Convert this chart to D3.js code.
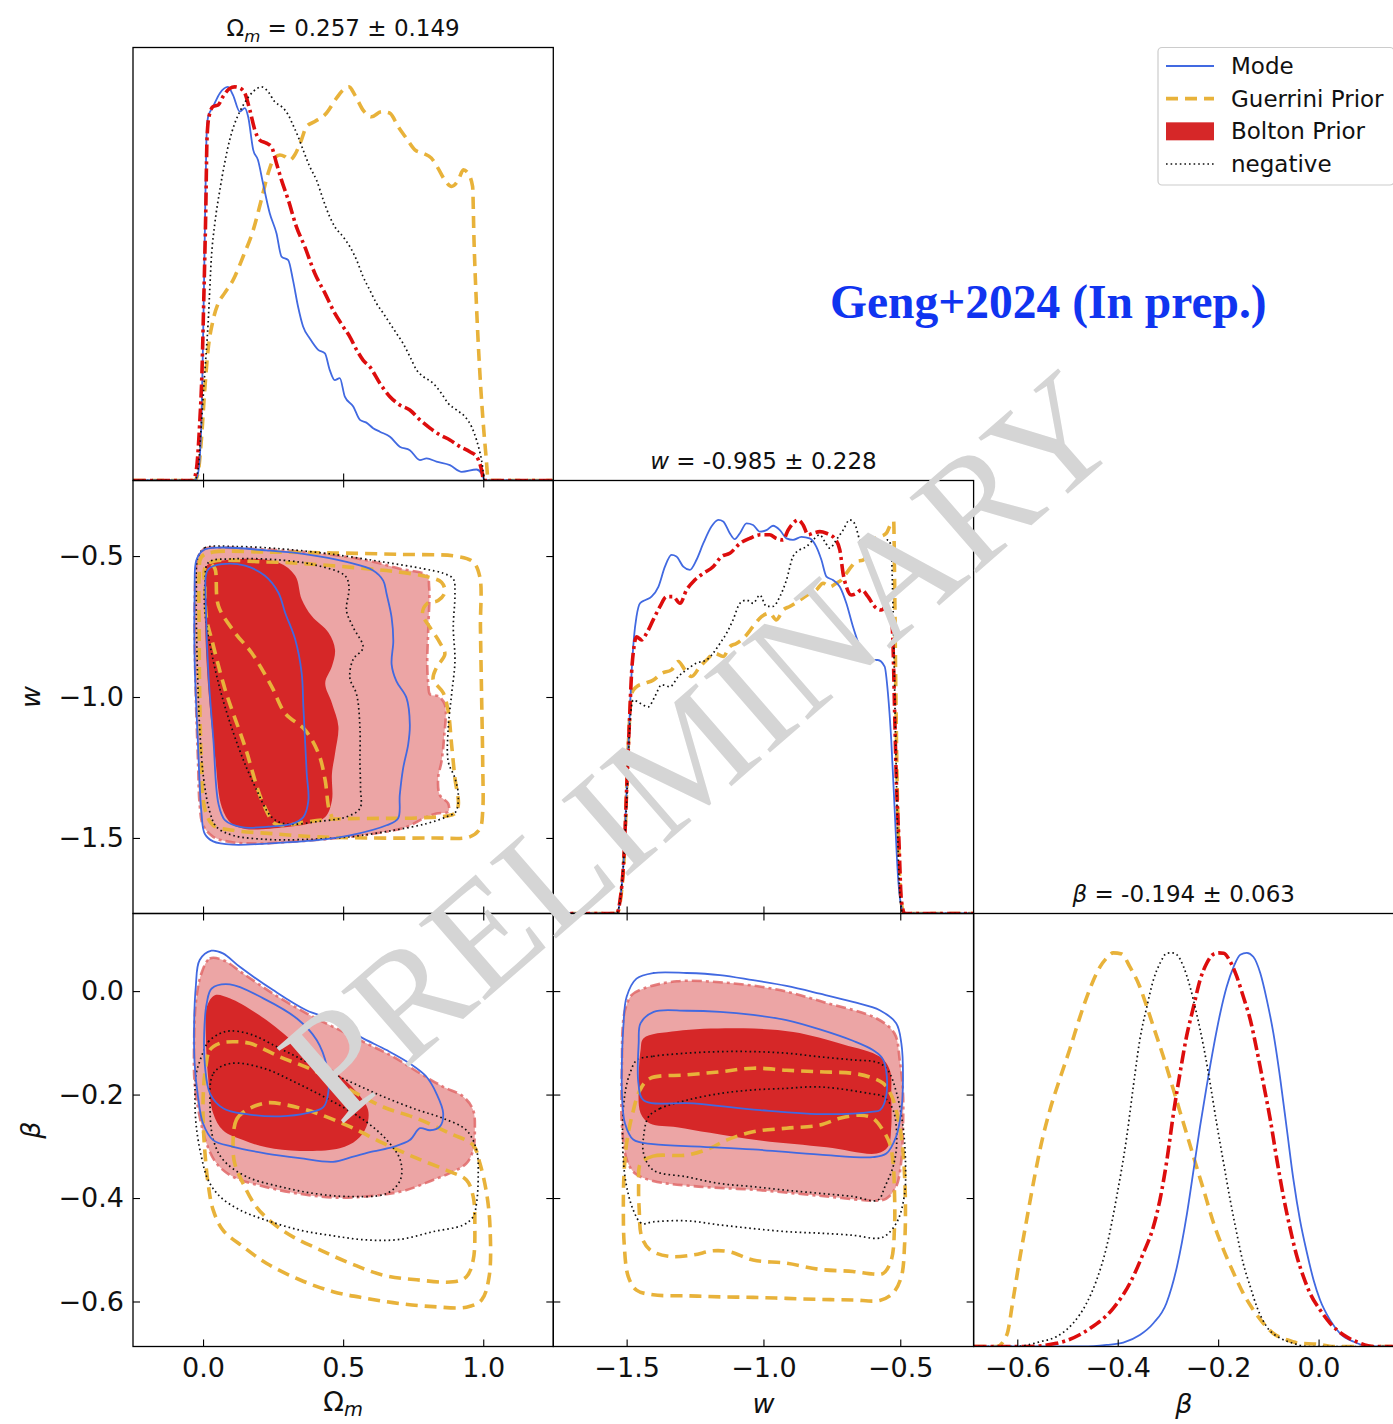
<!DOCTYPE html>
<html>
<head>
<meta charset="utf-8">
<script src="https://cdn.jsdelivr.net/npm/d3@7"></script>
<style>
  body { margin: 0; background: #fff; }
  svg { display: block; }
</style>
</head>
<body>
<svg id="fig" width="1393" height="1424"></svg>
<script>
// ---------------- tick values ----------------
const omTicks = [0, 0.5, 1.0];
const wTicks = [-1.5, -1.0, -0.5];
const betaTicks = [-0.6, -0.4, -0.2, 0.0];

// ---------------- panel titles (mean ± std) ----------------
const titleOm = ["0.257", "0.149"];
const titleW = ["-0.985", "0.228"];
const titleBeta = ["-0.194", "0.063"];

const seriesNames = ["Mode", "Guerrini Prior", "Bolton Prior", "negative"];

// ---------------- 1D marginals: [value, normalised density] ----------------
const om1D_mode = [[-0.25,0],[-0.030,0],[-0.018,0.018],[-0.006,0.145],[0.0,0.357],[0.006,0.611],[0.012,0.865],[0.018,0.924],[0.036,0.950],[0.060,0.984],[0.089,1.0],[0.107,0.979],[0.131,0.937],[0.149,0.946],[0.161,0.924],[0.179,0.840],[0.196,0.814],[0.214,0.755],[0.238,0.679],[0.262,0.628],[0.280,0.569],[0.304,0.560],[0.321,0.509],[0.339,0.442],[0.357,0.391],[0.381,0.361],[0.411,0.332],[0.435,0.323],[0.452,0.281],[0.470,0.255],[0.488,0.260],[0.506,0.213],[0.536,0.188],[0.560,0.154],[0.583,0.147],[0.607,0.133],[0.631,0.124],[0.667,0.111],[0.702,0.086],[0.738,0.077],[0.774,0.052],[0.798,0.056],[0.833,0.048],[0.881,0.039],[0.923,0.022],[0.976,0.028],[0.994,0.018],[1.006,0],[1.25,0]];
const om1D_guerrini = [[-0.25,0],[-0.030,0],[-0.018,0.018],[-0.006,0.103],[0.006,0.230],[0.018,0.332],[0.036,0.408],[0.054,0.450],[0.077,0.476],[0.107,0.509],[0.143,0.569],[0.179,0.636],[0.208,0.713],[0.232,0.780],[0.250,0.814],[0.274,0.827],[0.292,0.823],[0.310,0.814],[0.327,0.827],[0.351,0.865],[0.369,0.899],[0.399,0.912],[0.440,0.933],[0.476,0.971],[0.500,0.992],[0.521,1.0],[0.542,0.979],[0.571,0.941],[0.601,0.924],[0.637,0.937],[0.667,0.933],[0.696,0.899],[0.726,0.869],[0.756,0.840],[0.786,0.831],[0.815,0.819],[0.839,0.793],[0.863,0.763],[0.887,0.747],[0.911,0.763],[0.929,0.789],[0.946,0.780],[0.962,0.747],[0.967,0.611],[0.976,0.442],[0.988,0.272],[1.000,0.145],[1.010,0.061],[1.018,0],[1.25,0]];
const om1D_bolton = [[-0.25,0],[-0.036,0],[-0.024,0.027],[-0.012,0.145],[-0.004,0.272],[0.002,0.442],[0.010,0.696],[0.014,0.865],[0.021,0.924],[0.036,0.950],[0.054,0.954],[0.071,0.975],[0.095,0.996],[0.113,1.0],[0.131,0.997],[0.149,0.984],[0.167,0.941],[0.185,0.890],[0.202,0.865],[0.226,0.857],[0.244,0.848],[0.262,0.806],[0.280,0.763],[0.304,0.713],[0.333,0.645],[0.363,0.594],[0.399,0.526],[0.435,0.476],[0.470,0.425],[0.500,0.391],[0.524,0.365],[0.548,0.332],[0.571,0.306],[0.595,0.289],[0.631,0.247],[0.667,0.213],[0.702,0.192],[0.738,0.179],[0.774,0.154],[0.810,0.133],[0.845,0.116],[0.881,0.103],[0.917,0.086],[0.952,0.073],[0.976,0.061],[0.994,0.027],[1.002,0],[1.25,0]];
const om1D_negative = [[-0.25,0],[-0.030,0],[-0.018,0.027],[-0.006,0.145],[0.006,0.272],[0.018,0.399],[0.030,0.569],[0.042,0.653],[0.060,0.738],[0.077,0.806],[0.095,0.865],[0.113,0.907],[0.131,0.937],[0.155,0.967],[0.179,0.988],[0.208,1.0],[0.232,0.988],[0.256,0.962],[0.280,0.950],[0.304,0.929],[0.321,0.903],[0.339,0.874],[0.357,0.840],[0.381,0.797],[0.405,0.763],[0.429,0.713],[0.452,0.670],[0.470,0.645],[0.500,0.619],[0.524,0.594],[0.548,0.560],[0.571,0.518],[0.595,0.484],[0.619,0.450],[0.643,0.425],[0.667,0.399],[0.690,0.374],[0.714,0.348],[0.738,0.315],[0.762,0.281],[0.786,0.264],[0.821,0.247],[0.851,0.221],[0.875,0.196],[0.905,0.179],[0.935,0.162],[0.958,0.137],[0.976,0.103],[0.994,0.052],[1.006,0],[1.25,0]];

const w1D_mode = [[-1.768,0],[-1.536,0],[-1.524,0.034],[-1.510,0.144],[-1.500,0.314],[-1.490,0.483],[-1.482,0.610],[-1.473,0.703],[-1.464,0.754],[-1.451,0.788],[-1.433,0.796],[-1.409,0.805],[-1.384,0.830],[-1.360,0.881],[-1.336,0.911],[-1.318,0.907],[-1.293,0.881],[-1.269,0.873],[-1.245,0.898],[-1.220,0.940],[-1.190,0.983],[-1.165,1.0],[-1.147,0.996],[-1.123,0.966],[-1.105,0.951],[-1.086,0.966],[-1.062,0.991],[-1.038,0.987],[-1.013,0.970],[-0.989,0.974],[-0.965,0.985],[-0.940,0.974],[-0.916,0.953],[-0.892,0.949],[-0.861,0.957],[-0.831,0.953],[-0.807,0.932],[-0.788,0.898],[-0.770,0.856],[-0.746,0.847],[-0.721,0.830],[-0.697,0.788],[-0.673,0.729],[-0.648,0.678],[-0.618,0.644],[-0.582,0.644],[-0.557,0.627],[-0.545,0.559],[-0.533,0.441],[-0.521,0.271],[-0.509,0.102],[-0.496,0.017],[-0.484,0],[-0.232,0]];
const w1D_guerrini = [[-1.768,0],[-1.536,0],[-1.518,0.060],[-1.506,0.187],[-1.498,0.356],[-1.490,0.483],[-1.482,0.559],[-1.464,0.576],[-1.433,0.585],[-1.403,0.593],[-1.372,0.610],[-1.336,0.619],[-1.311,0.640],[-1.287,0.619],[-1.263,0.602],[-1.232,0.627],[-1.208,0.644],[-1.178,0.661],[-1.147,0.653],[-1.123,0.678],[-1.099,0.686],[-1.068,0.703],[-1.038,0.729],[-1.007,0.754],[-0.977,0.763],[-0.953,0.746],[-0.928,0.771],[-0.904,0.780],[-0.867,0.796],[-0.831,0.813],[-0.807,0.822],[-0.782,0.839],[-0.758,0.830],[-0.734,0.839],[-0.715,0.847],[-0.697,0.864],[-0.679,0.881],[-0.661,0.894],[-0.636,0.898],[-0.618,0.915],[-0.600,0.949],[-0.575,0.957],[-0.551,0.966],[-0.533,0.991],[-0.524,0.996],[-0.521,0.864],[-0.517,0.610],[-0.512,0.356],[-0.505,0.144],[-0.496,0.026],[-0.484,0],[-0.232,0]];
const w1D_bolton = [[-1.768,0],[-1.536,0],[-1.524,0.034],[-1.510,0.144],[-1.500,0.314],[-1.490,0.483],[-1.482,0.610],[-1.473,0.678],[-1.464,0.703],[-1.445,0.695],[-1.427,0.712],[-1.403,0.746],[-1.378,0.780],[-1.354,0.805],[-1.330,0.805],[-1.305,0.788],[-1.281,0.822],[-1.251,0.847],[-1.220,0.864],[-1.184,0.881],[-1.153,0.907],[-1.123,0.915],[-1.086,0.940],[-1.050,0.953],[-1.013,0.962],[-0.977,0.962],[-0.953,0.953],[-0.928,0.949],[-0.910,0.974],[-0.892,0.991],[-0.873,1.0],[-0.855,0.987],[-0.837,0.962],[-0.819,0.966],[-0.794,0.970],[-0.770,0.966],[-0.740,0.953],[-0.721,0.924],[-0.709,0.864],[-0.697,0.830],[-0.679,0.809],[-0.661,0.813],[-0.642,0.822],[-0.618,0.805],[-0.594,0.780],[-0.569,0.771],[-0.551,0.780],[-0.533,0.754],[-0.527,0.695],[-0.521,0.525],[-0.515,0.356],[-0.505,0.187],[-0.496,0.034],[-0.484,0],[-0.232,0]];
const w1D_negative = [[-1.768,0],[-1.536,0],[-1.524,0.034],[-1.510,0.144],[-1.498,0.314],[-1.488,0.483],[-1.476,0.542],[-1.451,0.534],[-1.421,0.525],[-1.397,0.551],[-1.372,0.581],[-1.342,0.576],[-1.311,0.602],[-1.281,0.619],[-1.245,0.636],[-1.208,0.644],[-1.184,0.661],[-1.159,0.686],[-1.135,0.712],[-1.111,0.746],[-1.086,0.788],[-1.062,0.796],[-1.038,0.788],[-1.013,0.809],[-0.989,0.780],[-0.965,0.780],[-0.940,0.805],[-0.916,0.847],[-0.892,0.907],[-0.867,0.924],[-0.843,0.932],[-0.819,0.949],[-0.794,0.962],[-0.776,0.945],[-0.758,0.928],[-0.734,0.949],[-0.709,0.974],[-0.685,1.0],[-0.667,0.991],[-0.648,0.949],[-0.624,0.932],[-0.600,0.932],[-0.582,0.932],[-0.563,0.940],[-0.545,0.949],[-0.533,0.932],[-0.529,0.847],[-0.524,0.695],[-0.517,0.441],[-0.509,0.187],[-0.500,0.034],[-0.490,0],[-0.232,0]];

const beta1D_mode = [[-0.687,0],[-0.469,0],[-0.422,0.004],[-0.389,0.010],[-0.356,0.029],[-0.329,0.059],[-0.303,0.110],[-0.282,0.203],[-0.262,0.338],[-0.249,0.448],[-0.236,0.559],[-0.223,0.660],[-0.209,0.762],[-0.196,0.846],[-0.183,0.914],[-0.169,0.965],[-0.156,0.995],[-0.143,1.0],[-0.130,0.990],[-0.116,0.948],[-0.103,0.880],[-0.090,0.796],[-0.076,0.677],[-0.063,0.550],[-0.050,0.423],[-0.037,0.321],[-0.023,0.237],[-0.010,0.169],[0.003,0.118],[0.023,0.067],[0.043,0.033],[0.070,0.012],[0.103,0],[0.150,0]];
const beta1D_guerrini = [[-0.687,0],[-0.641,0],[-0.621,0.029],[-0.608,0.122],[-0.595,0.224],[-0.582,0.317],[-0.568,0.415],[-0.555,0.499],[-0.535,0.601],[-0.515,0.681],[-0.495,0.757],[-0.475,0.838],[-0.455,0.910],[-0.435,0.965],[-0.422,0.987],[-0.409,1.0],[-0.392,0.997],[-0.376,0.965],[-0.356,0.914],[-0.342,0.863],[-0.329,0.813],[-0.309,0.736],[-0.289,0.652],[-0.269,0.567],[-0.249,0.482],[-0.229,0.398],[-0.209,0.313],[-0.189,0.245],[-0.169,0.186],[-0.150,0.135],[-0.130,0.093],[-0.110,0.059],[-0.090,0.033],[-0.063,0.017],[-0.037,0.008],[-0.003,0.006],[0.030,0],[0.150,0]];
const beta1D_bolton = [[-0.687,0],[-0.582,0],[-0.522,0.008],[-0.455,0.046],[-0.409,0.097],[-0.376,0.160],[-0.349,0.237],[-0.329,0.304],[-0.316,0.372],[-0.302,0.474],[-0.289,0.592],[-0.276,0.694],[-0.263,0.787],[-0.249,0.863],[-0.236,0.931],[-0.223,0.973],[-0.209,0.997],[-0.199,1.0],[-0.189,0.999],[-0.176,0.978],[-0.163,0.940],[-0.150,0.889],[-0.136,0.830],[-0.123,0.753],[-0.110,0.669],[-0.096,0.575],[-0.083,0.474],[-0.070,0.381],[-0.056,0.296],[-0.043,0.228],[-0.030,0.177],[-0.017,0.135],[0.003,0.093],[0.023,0.059],[0.050,0.029],[0.076,0.012],[0.110,0],[0.150,0]];
const beta1D_negative = [[-0.687,0],[-0.602,0],[-0.555,0.012],[-0.522,0.025],[-0.489,0.059],[-0.462,0.110],[-0.442,0.169],[-0.422,0.254],[-0.402,0.381],[-0.382,0.533],[-0.369,0.660],[-0.356,0.779],[-0.342,0.863],[-0.329,0.931],[-0.316,0.973],[-0.302,0.999],[-0.292,1.0],[-0.282,0.995],[-0.269,0.965],[-0.256,0.914],[-0.243,0.846],[-0.229,0.762],[-0.216,0.669],[-0.203,0.567],[-0.189,0.465],[-0.176,0.372],[-0.163,0.288],[-0.150,0.211],[-0.136,0.152],[-0.123,0.101],[-0.103,0.050],[-0.076,0.021],[-0.050,0.008],[-0.023,0],[0.150,0]];

// ---------------- 2D credible contours: [x value, y value] ----------------
// Omega_m vs w
const omW_bolton95 = [[-0.018,-0.504],[0.006,-0.474],[0.060,-0.470],[0.226,-0.477],[0.405,-0.489],[0.583,-0.515],[0.702,-0.545],[0.798,-0.569],[0.807,-0.611],[0.804,-0.753],[0.800,-0.884],[0.804,-0.955],[0.810,-0.991],[0.839,-0.997],[0.863,-1.027],[0.860,-1.146],[0.851,-1.229],[0.839,-1.288],[0.845,-1.348],[0.875,-1.378],[0.875,-1.407],[0.833,-1.413],[0.786,-1.431],[0.726,-1.461],[0.607,-1.485],[0.464,-1.502],[0.310,-1.514],[0.202,-1.520],[0.095,-1.514],[0.036,-1.496],[0.0,-1.455],[-0.012,-1.383],[-0.018,-1.229],[-0.026,-0.991],[-0.030,-0.753],[-0.027,-0.575]];
const omW_bolton68 = [[0.013,-0.534],[0.114,-0.511],[0.269,-0.523],[0.329,-0.570],[0.352,-0.653],[0.388,-0.713],[0.448,-0.772],[0.471,-0.832],[0.460,-0.891],[0.436,-0.951],[0.460,-1.022],[0.483,-1.105],[0.471,-1.200],[0.460,-1.272],[0.460,-1.367],[0.436,-1.426],[0.376,-1.450],[0.293,-1.462],[0.150,-1.468],[0.102,-1.450],[0.067,-1.391],[0.043,-1.212],[0.019,-0.974],[0.007,-0.737],[0.007,-0.582]];
const omW_mode95 = [[-0.024,-0.515],[0.0,-0.480],[0.060,-0.470],[0.226,-0.480],[0.369,-0.494],[0.512,-0.521],[0.607,-0.551],[0.643,-0.587],[0.655,-0.634],[0.673,-0.718],[0.679,-0.801],[0.673,-0.884],[0.690,-0.944],[0.726,-1.003],[0.738,-1.098],[0.732,-1.169],[0.714,-1.253],[0.702,-1.348],[0.696,-1.431],[0.655,-1.455],[0.524,-1.491],[0.405,-1.508],[0.226,-1.520],[0.107,-1.524],[0.036,-1.512],[0.006,-1.485],[-0.006,-1.407],[-0.018,-1.169],[-0.030,-0.872],[-0.030,-0.634]];
const omW_mode68 = [[0.019,-0.546],[0.067,-0.529],[0.150,-0.534],[0.221,-0.570],[0.269,-0.630],[0.293,-0.701],[0.329,-0.796],[0.352,-0.915],[0.358,-1.034],[0.364,-1.153],[0.370,-1.272],[0.376,-1.367],[0.358,-1.426],[0.317,-1.450],[0.233,-1.460],[0.138,-1.462],[0.079,-1.438],[0.055,-1.379],[0.037,-1.153],[0.019,-0.915],[0.010,-0.677],[0.010,-0.570]];
const omW_neg95 = [[-0.018,-0.504],[0.006,-0.471],[0.107,-0.466],[0.286,-0.475],[0.464,-0.494],[0.643,-0.521],[0.786,-0.545],[0.857,-0.561],[0.893,-0.581],[0.899,-0.634],[0.893,-0.753],[0.899,-0.872],[0.887,-0.991],[0.875,-1.110],[0.875,-1.229],[0.899,-1.288],[0.911,-1.348],[0.902,-1.407],[0.869,-1.425],[0.798,-1.449],[0.679,-1.473],[0.524,-1.496],[0.345,-1.506],[0.226,-1.505],[0.107,-1.491],[0.048,-1.461],[0.024,-1.407],[0.002,-1.288],[-0.012,-1.110],[-0.021,-0.872],[-0.024,-0.634]];
const omW_neg68 = [[0.019,-0.523],[0.107,-0.510],[0.286,-0.515],[0.405,-0.533],[0.507,-0.570],[0.521,-0.611],[0.512,-0.694],[0.536,-0.753],[0.571,-0.825],[0.536,-0.866],[0.524,-0.932],[0.548,-0.991],[0.560,-1.110],[0.560,-1.229],[0.562,-1.324],[0.560,-1.395],[0.512,-1.425],[0.417,-1.441],[0.293,-1.450],[0.245,-1.426],[0.186,-1.319],[0.126,-1.177],[0.055,-0.951],[0.007,-0.701],[0.007,-0.594]];
const omW_guer95 = [[-0.006,-0.504],[0.036,-0.486],[0.226,-0.486],[0.464,-0.489],[0.702,-0.494],[0.905,-0.501],[0.964,-0.521],[0.988,-0.575],[0.990,-0.753],[0.994,-0.991],[0.998,-1.229],[0.998,-1.407],[0.988,-1.467],[0.952,-1.496],[0.821,-1.500],[0.583,-1.500],[0.405,-1.496],[0.250,-1.485],[0.107,-1.473],[0.036,-1.455],[0.006,-1.395],[-0.006,-1.229],[-0.012,-0.991],[-0.014,-0.753],[-0.014,-0.575]];
const omW_guer68 = [[0.014,-0.530],[0.226,-0.521],[0.405,-0.530],[0.583,-0.545],[0.702,-0.557],[0.798,-0.573],[0.851,-0.593],[0.863,-0.628],[0.839,-0.658],[0.798,-0.670],[0.783,-0.706],[0.810,-0.753],[0.845,-0.807],[0.863,-0.848],[0.833,-0.896],[0.821,-0.938],[0.857,-0.985],[0.875,-1.051],[0.887,-1.169],[0.899,-1.288],[0.911,-1.383],[0.899,-1.413],[0.869,-1.422],[0.762,-1.429],[0.583,-1.431],[0.464,-1.433],[0.369,-1.443],[0.293,-1.455],[0.257,-1.450],[0.210,-1.367],[0.150,-1.177],[0.079,-0.974],[0.031,-0.796],[0.013,-0.725],[0.007,-0.618]];
const omW_guerRidge = [[0.031,-0.530],[0.043,-0.546],[0.055,-0.677],[0.114,-0.772],[0.174,-0.844],[0.245,-0.963],[0.293,-1.058],[0.364,-1.117],[0.412,-1.200],[0.436,-1.296],[0.448,-1.391],[0.460,-1.426]];

// Omega_m vs beta
const omB_bolton95 = [[-0.006,0.034],[0.024,0.063],[0.071,0.060],[0.143,0.034],[0.250,-0.005],[0.369,-0.043],[0.464,-0.069],[0.583,-0.101],[0.679,-0.127],[0.774,-0.159],[0.857,-0.185],[0.929,-0.204],[0.964,-0.230],[0.970,-0.269],[0.964,-0.307],[0.940,-0.333],[0.881,-0.352],[0.821,-0.365],[0.762,-0.378],[0.702,-0.388],[0.583,-0.397],[0.464,-0.399],[0.345,-0.392],[0.226,-0.379],[0.107,-0.359],[0.048,-0.333],[0.012,-0.294],[-0.012,-0.243],[-0.030,-0.178],[-0.032,-0.101],[-0.026,-0.024]];
const omB_bolton68 = [[0.014,-0.030],[0.042,-0.008],[0.095,-0.014],[0.226,-0.056],[0.345,-0.108],[0.464,-0.153],[0.548,-0.195],[0.589,-0.230],[0.583,-0.262],[0.548,-0.288],[0.488,-0.304],[0.345,-0.309],[0.226,-0.302],[0.143,-0.288],[0.071,-0.269],[0.036,-0.236],[0.018,-0.166],[0.010,-0.088]];
const omB_mode95 = [[-0.012,0.060],[0.030,0.078],[0.071,0.073],[0.131,0.047],[0.250,0.002],[0.369,-0.037],[0.464,-0.056],[0.560,-0.088],[0.655,-0.114],[0.738,-0.140],[0.798,-0.166],[0.833,-0.198],[0.857,-0.236],[0.845,-0.262],[0.810,-0.269],[0.774,-0.265],[0.738,-0.288],[0.679,-0.301],[0.607,-0.310],[0.536,-0.320],[0.464,-0.330],[0.345,-0.323],[0.226,-0.314],[0.107,-0.301],[0.036,-0.288],[0.000,-0.256],[-0.018,-0.204],[-0.030,-0.140],[-0.032,-0.069],[-0.026,0.008]];
const omB_mode68 = [[0.031,0.005],[0.096,0.013],[0.215,-0.014],[0.335,-0.053],[0.406,-0.095],[0.442,-0.146],[0.448,-0.191],[0.430,-0.224],[0.370,-0.236],[0.275,-0.242],[0.156,-0.238],[0.073,-0.227],[0.025,-0.198],[0.007,-0.146],[0.004,-0.082],[0.013,-0.024]];
const omB_neg95 = [[-0.006,-0.127],[0.019,-0.098],[0.060,-0.082],[0.096,-0.077],[0.167,-0.083],[0.286,-0.114],[0.405,-0.146],[0.524,-0.175],[0.643,-0.204],[0.762,-0.229],[0.857,-0.246],[0.940,-0.269],[0.976,-0.307],[0.982,-0.359],[0.976,-0.410],[0.964,-0.436],[0.929,-0.452],[0.821,-0.465],[0.702,-0.480],[0.583,-0.481],[0.464,-0.473],[0.345,-0.462],[0.226,-0.443],[0.131,-0.423],[0.060,-0.397],[0.018,-0.365],[-0.006,-0.320],[-0.024,-0.262],[-0.029,-0.204],[-0.024,-0.159]];
const omB_neg68 = [[0.025,-0.224],[0.037,-0.159],[0.096,-0.140],[0.215,-0.149],[0.335,-0.178],[0.454,-0.211],[0.573,-0.249],[0.656,-0.288],[0.704,-0.327],[0.704,-0.365],[0.656,-0.391],[0.513,-0.397],[0.394,-0.391],[0.275,-0.378],[0.156,-0.359],[0.073,-0.327],[0.037,-0.288]];
const omB_guer95 = [[0.010,-0.146],[0.024,-0.114],[0.060,-0.101],[0.107,-0.098],[0.167,-0.101],[0.274,-0.127],[0.393,-0.153],[0.524,-0.191],[0.643,-0.224],[0.762,-0.246],[0.881,-0.275],[0.964,-0.298],[0.988,-0.333],[1.012,-0.391],[1.024,-0.455],[1.021,-0.552],[0.994,-0.597],[0.940,-0.611],[0.821,-0.610],[0.702,-0.604],[0.583,-0.594],[0.464,-0.581],[0.345,-0.558],[0.226,-0.526],[0.143,-0.494],[0.071,-0.462],[0.036,-0.423],[0.018,-0.372],[0.006,-0.307],[0.000,-0.243],[0.002,-0.185]];
const omB_guer68 = [[0.107,-0.294],[0.119,-0.249],[0.155,-0.230],[0.226,-0.216],[0.298,-0.220],[0.405,-0.236],[0.524,-0.262],[0.643,-0.294],[0.762,-0.323],[0.881,-0.349],[0.940,-0.365],[0.964,-0.397],[0.970,-0.455],[0.964,-0.520],[0.940,-0.552],[0.893,-0.562],[0.762,-0.558],[0.643,-0.549],[0.524,-0.526],[0.417,-0.500],[0.321,-0.475],[0.250,-0.449],[0.190,-0.417],[0.143,-0.372],[0.113,-0.333]];

// w vs beta
const wB_bolton95 = [[-1.506,-0.037],[-1.482,-0.008],[-1.438,0.005],[-1.316,0.019],[-1.134,0.016],[-0.951,0.003],[-0.769,-0.023],[-0.586,-0.053],[-0.521,-0.082],[-0.502,-0.133],[-0.490,-0.198],[-0.490,-0.262],[-0.496,-0.327],[-0.515,-0.378],[-0.551,-0.401],[-0.586,-0.405],[-0.769,-0.397],[-1.012,-0.385],[-1.255,-0.377],[-1.403,-0.367],[-1.470,-0.352],[-1.499,-0.327],[-1.517,-0.262],[-1.519,-0.198],[-1.517,-0.133],[-1.515,-0.075]];
const wB_bolton68 = [[-1.449,-0.114],[-1.438,-0.091],[-1.316,-0.077],[-1.073,-0.072],[-0.891,-0.079],[-0.708,-0.103],[-0.574,-0.127],[-0.538,-0.153],[-0.533,-0.204],[-0.533,-0.262],[-0.545,-0.301],[-0.586,-0.314],[-0.769,-0.302],[-1.012,-0.289],[-1.195,-0.274],[-1.316,-0.263],[-1.415,-0.256],[-1.449,-0.236],[-1.456,-0.178]];
const wB_mode95 = [[-1.516,-0.211],[-1.518,-0.166],[-1.512,-0.069],[-1.500,-0.011],[-1.464,0.024],[-1.403,0.035],[-1.281,0.035],[-1.159,0.031],[-1.038,0.021],[-0.916,0.010],[-0.794,-0.005],[-0.673,-0.021],[-0.575,-0.037],[-0.515,-0.062],[-0.496,-0.101],[-0.490,-0.166],[-0.496,-0.230],[-0.515,-0.281],[-0.551,-0.314],[-0.600,-0.321],[-0.794,-0.316],[-1.038,-0.306],[-1.220,-0.301],[-1.403,-0.296],[-1.476,-0.287],[-1.506,-0.256]];
const wB_mode68 = [[-1.456,-0.101],[-1.449,-0.062],[-1.401,-0.040],[-1.281,-0.038],[-1.159,-0.040],[-1.038,-0.046],[-0.916,-0.056],[-0.794,-0.074],[-0.673,-0.096],[-0.600,-0.114],[-0.562,-0.133],[-0.550,-0.198],[-0.574,-0.230],[-0.599,-0.233],[-0.769,-0.238],[-1.012,-0.230],[-1.255,-0.217],[-1.438,-0.211],[-1.457,-0.178]];
const wB_neg95 = [[-1.462,-0.133],[-1.403,-0.126],[-1.281,-0.120],[-1.159,-0.117],[-1.038,-0.117],[-0.916,-0.120],[-0.794,-0.127],[-0.673,-0.133],[-0.582,-0.138],[-0.545,-0.153],[-0.513,-0.198],[-0.490,-0.262],[-0.481,-0.327],[-0.484,-0.391],[-0.509,-0.443],[-0.551,-0.472],[-0.582,-0.478],[-0.673,-0.472],[-0.794,-0.468],[-0.916,-0.465],[-1.038,-0.459],[-1.159,-0.452],[-1.281,-0.444],[-1.403,-0.446],[-1.445,-0.449],[-1.476,-0.423],[-1.506,-0.359],[-1.515,-0.262],[-1.506,-0.198],[-1.488,-0.159]];
const wB_neg68 = [[-1.420,-0.243],[-1.378,-0.227],[-1.281,-0.211],[-1.159,-0.198],[-1.038,-0.191],[-0.916,-0.188],[-0.819,-0.185],[-0.734,-0.188],[-0.612,-0.198],[-0.562,-0.204],[-0.526,-0.230],[-0.513,-0.294],[-0.526,-0.339],[-0.556,-0.378],[-0.582,-0.404],[-0.673,-0.397],[-0.794,-0.391],[-0.916,-0.385],[-1.038,-0.378],[-1.159,-0.372],[-1.281,-0.359],[-1.403,-0.346],[-1.438,-0.314],[-1.438,-0.281]];
const wB_guer95 = [[-1.451,-0.191],[-1.415,-0.169],[-1.281,-0.162],[-1.159,-0.156],[-1.038,-0.149],[-0.916,-0.153],[-0.794,-0.156],[-0.673,-0.159],[-0.612,-0.166],[-0.563,-0.178],[-0.533,-0.201],[-0.509,-0.243],[-0.493,-0.294],[-0.484,-0.359],[-0.481,-0.423],[-0.484,-0.488],[-0.496,-0.552],[-0.527,-0.584],[-0.575,-0.598],[-0.673,-0.597],[-0.794,-0.596],[-0.916,-0.594],[-1.038,-0.592],[-1.159,-0.591],[-1.281,-0.589],[-1.403,-0.587],[-1.464,-0.578],[-1.494,-0.552],[-1.509,-0.488],[-1.512,-0.423],[-1.510,-0.359],[-1.500,-0.294],[-1.478,-0.236]];
const wB_guer68 = [[-1.449,-0.333],[-1.403,-0.319],[-1.281,-0.317],[-1.196,-0.304],[-1.135,-0.288],[-1.038,-0.272],[-0.916,-0.265],[-0.794,-0.259],[-0.721,-0.246],[-0.648,-0.240],[-0.600,-0.246],[-0.563,-0.269],[-0.539,-0.294],[-0.527,-0.327],[-0.521,-0.391],[-0.521,-0.455],[-0.533,-0.520],[-0.563,-0.546],[-0.600,-0.547],[-0.673,-0.542],[-0.794,-0.538],[-0.916,-0.526],[-1.038,-0.520],[-1.123,-0.504],[-1.184,-0.502],[-1.257,-0.510],[-1.342,-0.513],[-1.415,-0.500],[-1.445,-0.475],[-1.454,-0.423],[-1.456,-0.372]];

// ---------------- styling ----------------
const COL = {
  mode: "#4169e1",
  guerrini: "#e8b23a",
  boltonLine: "#dd0d0d",
  boltonDark: "#d62728",
  boltonLight: "#eca5a5",
  boltonEdge: "#e06868",
  negative: "#111111"
};
const FONT = '"DejaVu Sans", "Noto Sans", sans-serif';

const svg = d3.select("#fig");
svg.append("rect").attr("width", 1393).attr("height", 1424).attr("fill", "#fff");

// grid geometry
const colX = [133, 553.3, 973.6];
const rowY = [47.5, 480.5, 913.5];
const PW = 420.3, PH = 433;
const domains = { om: [-0.25, 1.25], w: [-1.768, -0.232], beta: [-0.687, 0.150] };
const ticksOf = { om: omTicks, w: wTicks, beta: betaTicks };
const params = ["om", "w", "beta"];

const xS = (p, c) => d3.scaleLinear().domain(domains[p]).range([colX[c], colX[c] + PW]);
const yS = (p, r) => d3.scaleLinear().domain(domains[p]).range([rowY[r] + PH, rowY[r]]);
const dS = r => d3.scaleLinear().domain([0, 1.1]).range([rowY[r] + PH, rowY[r]]);

const defs = svg.append("defs");
function clipFor(r, c) {
  const id = `clip-${r}-${c}`;
  defs.append("clipPath").attr("id", id).append("rect")
    .attr("x", colX[c]).attr("y", rowY[r]).attr("width", PW).attr("height", PH);
  return `url(#${id})`;
}

const lineStyles = {
  mode: { stroke: COL.mode, width: 1.8, dash: null },
  guerrini: { stroke: COL.guerrini, width: 3.6, dash: "12,7" },
  bolton: { stroke: COL.boltonLine, width: 3.6, dash: "13,4,3,4" },
  negative: { stroke: COL.negative, width: 1.7, dash: "1.6,3" }
};
function styleLine(sel, key) {
  const s = lineStyles[key];
  sel.attr("fill", "none").attr("stroke", s.stroke).attr("stroke-width", s.width);
  if (s.dash) sel.attr("stroke-dasharray", s.dash);
  return sel;
}

// ---------------- 1D panels ----------------
const marg = {
  om: { guerrini: om1D_guerrini, mode: om1D_mode, bolton: om1D_bolton, negative: om1D_negative },
  w: { guerrini: w1D_guerrini, mode: w1D_mode, bolton: w1D_bolton, negative: w1D_negative },
  beta: { guerrini: beta1D_guerrini, mode: beta1D_mode, bolton: beta1D_bolton, negative: beta1D_negative }
};
params.forEach((p, i) => {
  const x = xS(p, i), y = dS(i);
  const g = svg.append("g").attr("clip-path", clipFor(i, i));
  const line = d3.line().x(d => x(d[0])).y(d => y(d[1])).curve(d3.curveMonotoneX);
  ["guerrini", "mode", "bolton", "negative"].forEach(k => {
    styleLine(g.append("path").datum(marg[p][k]).attr("d", line), k);
  });
});

// ---------------- 2D panels ----------------
const pairs = [
  { r: 1, c: 0, xp: "om", yp: "w",
    b95: omW_bolton95, b68: omW_bolton68, m95: omW_mode95, m68: omW_mode68,
    n95: omW_neg95, n68: omW_neg68, g95: omW_guer95, g68: omW_guer68, gOpen: [omW_guerRidge] },
  { r: 2, c: 0, xp: "om", yp: "beta",
    b95: omB_bolton95, b68: omB_bolton68, m95: omB_mode95, m68: omB_mode68,
    n95: omB_neg95, n68: omB_neg68, g95: omB_guer95, g68: omB_guer68, gOpen: [] },
  { r: 2, c: 1, xp: "w", yp: "beta",
    b95: wB_bolton95, b68: wB_bolton68, m95: wB_mode95, m68: wB_mode68,
    n95: wB_neg95, n68: wB_neg68, g95: wB_guer95, g68: wB_guer68, gOpen: [] }
];
pairs.forEach(P => {
  const x = xS(P.xp, P.c), y = yS(P.yp, P.r);
  const g = svg.append("g").attr("clip-path", clipFor(P.r, P.c));
  const closed = d3.line().x(d => x(d[0])).y(d => y(d[1])).curve(d3.curveCatmullRomClosed.alpha(0.5));
  const open = d3.line().x(d => x(d[0])).y(d => y(d[1])).curve(d3.curveCatmullRom.alpha(0.5));
  // filled Bolton regions
  g.append("path").datum(P.b95).attr("d", closed).attr("fill", COL.boltonLight);
  g.append("path").datum(P.b68).attr("d", closed).attr("fill", COL.boltonDark);
  g.append("path").datum(P.b95).attr("d", closed).attr("fill", "none")
    .attr("stroke", COL.boltonEdge).attr("stroke-width", 2.6).attr("stroke-opacity", 0.85)
    .attr("stroke-dasharray", "10,4,3,4");
  // line contours
  [P.g95, P.g68].forEach(d => styleLine(g.append("path").datum(d).attr("d", closed), "guerrini"));
  P.gOpen.forEach(d => styleLine(g.append("path").datum(d).attr("d", open), "guerrini"));
  [P.n95, P.n68].forEach(d => styleLine(g.append("path").datum(d).attr("d", closed), "negative"));
  [P.m95, P.m68].forEach(d => styleLine(g.append("path").datum(d).attr("d", closed), "mode"));
});

// ---------------- frames and ticks ----------------
const fmt = d3.format(".1f");
const TL = 7;
function styleAxis(g, labelled) {
  g.select(".domain").remove();
  g.selectAll(".tick line").attr("stroke", "#000").attr("stroke-width", 1.1);
  g.selectAll(".tick text").attr("font-family", FONT).attr("font-size", 27).attr("fill", "#111");
  if (!labelled) g.selectAll(".tick text").remove();
}
for (let r = 0; r < 3; r++) {
  for (let c = 0; c <= r; c++) {
    const xp = params[c];
    const x = xS(xp, c);
    const x0 = colX[c], y0 = rowY[r];
    // bottom
    const gb = svg.append("g").attr("transform", `translate(0,${y0 + PH})`)
      .call(d3.axisBottom(x).tickValues(ticksOf[xp]).tickSize(-TL).tickPadding(11).tickFormat(fmt));
    styleAxis(gb, r === 2);
    if (r !== c) {
      const yp = params[r];
      const y = yS(yp, r);
      const gt = svg.append("g").attr("transform", `translate(0,${y0})`)
        .call(d3.axisTop(x).tickValues(ticksOf[xp]).tickSize(-TL).tickFormat(""));
      styleAxis(gt, false);
      const gl = svg.append("g").attr("transform", `translate(${x0},0)`)
        .call(d3.axisLeft(y).tickValues(ticksOf[yp]).tickSize(-TL).tickPadding(9).tickFormat(fmt));
      styleAxis(gl, c === 0);
      const gr = svg.append("g").attr("transform", `translate(${x0 + PW},0)`)
        .call(d3.axisRight(y).tickValues(ticksOf[yp]).tickSize(-TL).tickFormat(""));
      styleAxis(gr, false);
    }
    svg.append("rect").attr("x", x0).attr("y", y0).attr("width", PW).attr("height", PH)
      .attr("fill", "none").attr("stroke", "#000").attr("stroke-width", 1.3);
  }
}

// ---------------- math-style text helper ----------------
function mathText(x, y, parts, size, opts = {}) {
  const t = svg.append("text").attr("x", x).attr("y", y)
    .attr("font-family", FONT).attr("font-size", size)
    .attr("text-anchor", opts.anchor || "middle").attr("fill", "#111");
  if (opts.rotate) t.attr("transform", `rotate(${opts.rotate},${x},${y})`);
  const subShift = opts.subShift !== undefined ? opts.subShift : 0.28;
  let shift = 0;
  parts.forEach(p => {
    const s = t.append("tspan").text(p.t);
    if (p.it) s.attr("font-style", "italic");
    const target = p.sub ? size * subShift : 0;
    if (target !== shift) { s.attr("dy", target - shift); shift = target; }
    if (p.sub) s.attr("font-size", size * 0.72);
  });
  return t;
}

// titles
const TS = 23;
mathText(colX[0] + PW / 2, rowY[0] - 12,
  [{ t: "Ω" }, { t: "m", it: true, sub: true }, { t: ` = ${titleOm[0]} ± ${titleOm[1]}` }], TS);
mathText(colX[1] + PW / 2, rowY[1] - 12,
  [{ t: "w", it: true }, { t: ` = ${titleW[0]} ± ${titleW[1]}` }], TS);
mathText(colX[2] + PW / 2, rowY[2] - 12,
  [{ t: "β", it: true }, { t: ` = ${titleBeta[0]} ± ${titleBeta[1]}` }], TS);

// axis labels
const AL = 27;
mathText(colX[0] + PW / 2, 1411, [{ t: "Ω" }, { t: "m", it: true, sub: true }], AL, { subShift: 0.2 });
mathText(colX[1] + PW / 2, 1413, [{ t: "w", it: true }], AL);
mathText(colX[2] + PW / 2, 1413, [{ t: "β", it: true }], AL);
mathText(40, rowY[1] + PH / 2, [{ t: "w", it: true }], AL, { rotate: -90 });
mathText(40, rowY[2] + PH / 2, [{ t: "β", it: true }], AL, { rotate: -90 });

// ---------------- watermark ----------------
svg.append("text")
  .attr("x", 0).attr("y", 0)
  .attr("transform", "translate(700,746) rotate(-41)")
  .attr("text-anchor", "middle").attr("dy", "0.33em")
  .attr("font-family", '"Liberation Serif", "Times New Roman", serif')
  .attr("font-size", 154).attr("fill", "#d5d5d5")
  .text("PRELIMINARY");

// ---------------- annotation ----------------
svg.append("text").attr("x", 830).attr("y", 318)
  .attr("font-family", '"Liberation Serif", "Times New Roman", serif')
  .attr("font-weight", "bold").attr("font-size", 47.5).attr("fill", "#1034f0")
  .text("Geng+2024 (In prep.)");

// ---------------- legend ----------------
const lg = svg.append("g");
lg.append("rect").attr("x", 1158).attr("y", 47.5).attr("width", 236).attr("height", 137.5)
  .attr("rx", 4).attr("fill", "#fff").attr("fill-opacity", 0.9)
  .attr("stroke", "#cccccc").attr("stroke-width", 1.2);
const legKeys = ["mode", "guerrini", "bolton", "negative"];
const legY = d3.scalePoint().domain(seriesNames).range([66, 164]);
seriesNames.forEach((name, i) => {
  const k = legKeys[i], cy = legY(name);
  if (k === "bolton") {
    lg.append("rect").attr("x", 1166).attr("y", cy - 9).attr("width", 48).attr("height", 18)
      .attr("fill", COL.boltonDark);
  } else {
    styleLine(lg.append("line").attr("x1", 1166).attr("x2", 1214).attr("y1", cy).attr("y2", cy), k);
  }
  lg.append("text").attr("x", 1231).attr("y", cy + 8)
    .attr("font-family", FONT).attr("font-size", 23).attr("fill", "#111").text(name);
});
</script>
</body>
</html>
